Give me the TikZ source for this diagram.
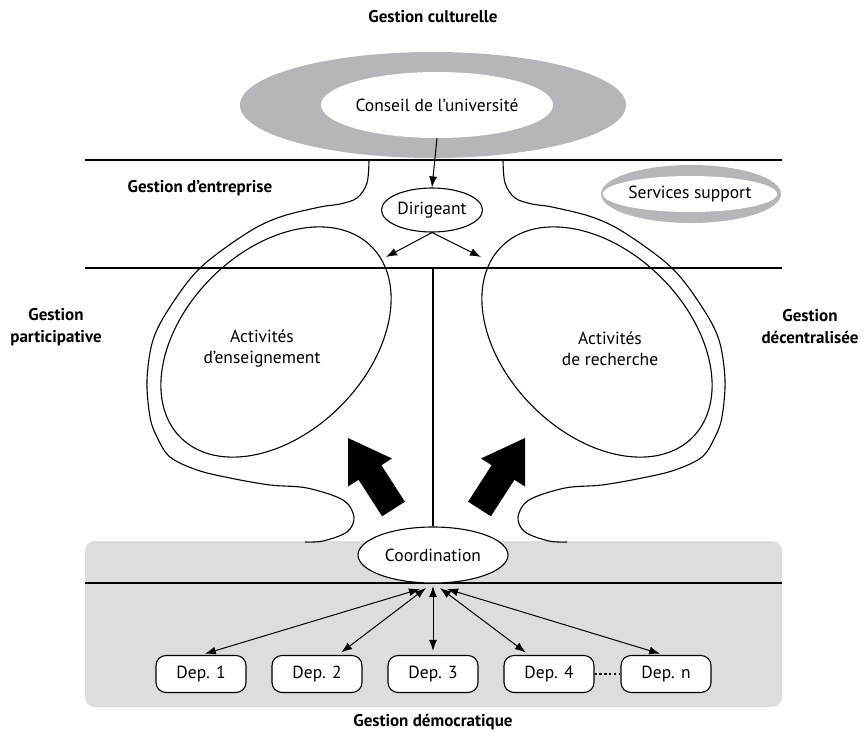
\documentclass[tikz,border=0pt]{standalone}
\usepackage{fontspec}
\setmainfont{PT Sans}
\usetikzlibrary{arrows.meta,calc,shapes.geometric}
\definecolor{midgray}{RGB}{181,182,185}
\definecolor{bglight}{RGB}{220,221,223}
\begin{document}
\begin{tikzpicture}[x=1pt,y=-1pt,
  titlelbl/.style={font=\bfseries\fontsize{17}{22}\selectfont, align=center, inner sep=0pt},
  lbl/.style={font=\fontsize{17.5}{21}\selectfont, align=center, inner sep=0pt},
  hline/.style={line width=2.4pt},
  curve/.style={line width=1.1pt},
  arr/.style={-{Latex[length=11pt,width=8pt]}, line width=1pt},
  darr/.style={{Latex[length=11pt,width=8pt]}-{Latex[length=11pt,width=8pt]}, line width=1pt},
  ell/.style={ellipse, draw, line width=1.1pt, fill=white, inner sep=0pt, font=\fontsize{17.5}{20}\selectfont},
  depbox/.style={draw, rounded corners=10pt, minimum width=90pt, minimum height=37pt, line width=1.1pt, fill=white, inner sep=0pt, font=\fontsize{17.5}{20}\selectfont},
  blockarr/.style={fill=black}
]
\useasboundingbox (0,0) rectangle (865,737);

% bottom grey band
\fill[bglight, rounded corners=10pt] (85,541) rectangle (782,707);

% big grey ellipse with council
\fill[midgray] (433,105) ellipse [x radius=193, y radius=53];
\node[ellipse, fill=white, inner sep=0pt, minimum width=232pt, minimum height=66pt, font=\fontsize{17.5}{20}\selectfont] (conseil) at (437,105) {Conseil de l'université};

% services support ring
\fill[midgray] (691,194) ellipse [x radius=90, y radius=29];
\node[ellipse, fill=white, inner sep=0pt, minimum width=152pt, minimum height=36pt, font=\fontsize{17.5}{20}\selectfont] (serv) at (690,194) {Services support};

% horizontal lines
\draw[hline] (85,160) -- (782,160);
\draw[hline] (85,268) -- (782,268);
\draw[hline] (85,583) -- (782,583);

% inner ellipses
\draw[curve, rotate around={45:(276,342)}] (276,342) ellipse [x radius=135, y radius=91];
\draw[curve, rotate around={-45:(597,342)}] (597,342) ellipse [x radius=135, y radius=91];

% outer loops
\draw[curve] plot[smooth, tension=0.55] coordinates {(369,160) (367,183) (357,198) (340,204) (320,207) (280,217) (247,233) (200,268) (170,307) (153,340) (147,380) (150,417) (157,437) (170,457) (197,470) (230,478) (270,485) (307,488) (343,500) (354,517) (347,532) (323,541) (305,542)};
\draw[curve] plot[smooth, tension=0.55] coordinates {(503,160) (505,183) (515,198) (532,204) (552,207) (592,217) (625,233) (672,268) (702,307) (719,340) (725,380) (722,417) (715,437) (702,457) (675,470) (642,478) (602,485) (565,488) (529,500) (518,517) (525,532) (549,541) (567,542)};

\node[lbl] (ens) at (262,349) {Activités\\d'enseignement};
\node[lbl] (rech) at (610,349) {Activités\\de recherche};

% block arrows
\fill[blockarr] (348,438) -- (392,458.5) -- (381.4,465.2) -- (404.9,501.7) -- (382.1,516.3) -- (358.6,479.8) -- (348,486.5) -- cycle;
\fill[blockarr] (525,438) -- (481,458.5) -- (491.6,465.2) -- (468.1,501.7) -- (490.9,516.3) -- (514.4,479.8) -- (525,486.5) -- cycle;

% dirigeant
\node[ell, minimum width=101pt, minimum height=44pt] (dir) at (432,210) {Dirigeant};
\coordinate (dl) at (386,257);
\coordinate (dr) at (481,257);
\draw[arr] (conseil.south) -- (dir.north);
\draw[arr] (dir.south) -- (dl);
\draw[arr] (dir.south) -- (dr);

% coordination
\node[ell, minimum width=150pt, minimum height=56pt] (coord) at (433,555) {Coordination};
\draw[line width=2pt] (433,268) -- (coord.north);

% departments
\node[depbox] (d1) at (201,674) {Dep. 1};
\node[depbox] (d2) at (317,674) {Dep. 2};
\node[depbox] (d3) at (433,674) {Dep. 3};
\node[depbox] (d4) at (549,674) {Dep. 4};
\node[depbox] (dn) at (666,674) {Dep. n};
\draw[line width=2.4pt, dash pattern=on 2.4pt off 2.4pt] (d4.east) -- (dn.west);

\coordinate (c1) at (420,589);
\coordinate (c2) at (426,588);
\coordinate (c3) at (433,586);
\coordinate (c4) at (440,588);
\coordinate (c5) at (447,589);
\draw[darr, shorten >=4pt] (c1) -- (d1.north);
\draw[darr, shorten >=4pt] (c2) -- ([xshift=21pt]d2.north);
\draw[darr, shorten >=4pt] (c3) -- (d3.north);
\draw[darr, shorten >=4pt] (c4) -- ([xshift=-20pt]d4.north);
\draw[darr, shorten >=4pt] (c5) -- ([xshift=-2pt]dn.north);

% titles
\node[titlelbl] (tcult) at (433,17) {Gestion culturelle};
\node[titlelbl] (tent) at (200,188) {Gestion d'entreprise};
\node[titlelbl] (tpart) at (56,327) {Gestion\\participative};
\node[titlelbl] (tdec) at (810,327) {Gestion\\décentralisée};
\node[titlelbl] (tdem) at (433,722) {Gestion démocratique};
\end{tikzpicture}
\end{document}
